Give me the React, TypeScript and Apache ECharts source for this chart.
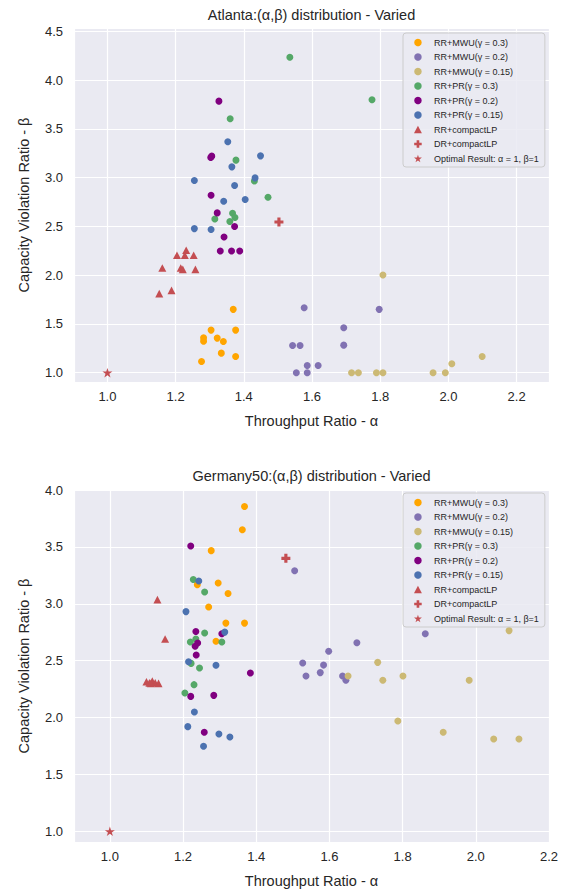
import React, { useEffect, useRef } from "react";
import * as echarts from "echarts";

const SERIES_NAMES = [
  "RR+MWU(γ = 0.3)",
  "RR+MWU(γ = 0.2)",
  "RR+MWU(γ = 0.15)",
  "RR+PR(γ = 0.3)",
  "RR+PR(γ = 0.2)",
  "RR+PR(γ = 0.15)",
  "RR+compactLP",
  "DR+compactLP",
  "Optimal Result: α = 1, β=1",
];

const COLORS = ["#FFA500", "#8172B2", "#CCB974", "#55A868", "#800080", "#4C72B0", "#C44E52", "#C44E52", "#C44E52"];

// Atlanta
const atlMwu03 = [[1.369, 1.65], [1.304, 1.437], [1.376, 1.437], [1.282, 1.359], [1.282, 1.324], [1.322, 1.355], [1.34, 1.321], [1.334, 1.201], [1.376, 1.167], [1.276, 1.116]];
const atlMwu02 = [[1.577, 1.667], [1.543, 1.28], [1.565, 1.28], [1.586, 1.075], [1.618, 1.075], [1.554, 1.0], [1.586, 1.0], [1.797, 1.65], [1.693, 1.462], [1.693, 1.283]];
const atlMwu015 = [[1.808, 2.002], [2.099, 1.167], [2.01, 1.092], [1.716, 1.0], [1.736, 1.0], [1.789, 1.0], [1.808, 1.0], [1.955, 1.0], [1.991, 1.0]];
const atlPr03 = [[1.535, 4.235], [1.36, 3.604], [1.377, 3.18], [1.431, 2.967], [1.471, 2.8], [1.367, 2.636], [1.374, 2.591], [1.359, 2.55], [1.315, 2.577], [1.776, 3.8]];
const atlPr02 = [[1.327, 3.785], [1.303, 3.207], [1.306, 3.221], [1.304, 2.82], [1.322, 2.639], [1.373, 2.499], [1.342, 2.392], [1.331, 2.248], [1.364, 2.248], [1.388, 2.248]];
const atlPr015 = [[1.353, 3.368], [1.449, 3.224], [1.365, 3.111], [1.255, 2.971], [1.433, 2.998], [1.373, 2.92], [1.341, 2.759], [1.404, 2.776], [1.255, 2.478], [1.304, 2.468]];
const atlRrLP = [[1.231, 2.256], [1.204, 2.204], [1.227, 2.204], [1.253, 2.204], [1.161, 2.074], [1.215, 2.074], [1.221, 2.06], [1.258, 2.06], [1.152, 1.811], [1.188, 1.845]];
const atlDrLP = [[1.503, 2.546]];
const atlOpt = [[1.0, 1.0]];

// Germany50
const gerMwu03 = [[1.368, 3.855], [1.362, 3.651], [1.277, 3.467], [1.239, 3.168], [1.296, 3.182], [1.323, 3.091], [1.27, 2.971], [1.317, 2.83], [1.368, 2.83], [1.29, 2.67]];
const gerMwu02 = [[1.505, 3.291], [1.862, 2.737], [1.675, 2.658], [1.598, 2.582], [1.527, 2.479], [1.584, 2.461], [1.536, 2.365], [1.575, 2.395], [1.636, 2.365], [1.645, 2.327]];
const gerMwu015 = [[2.091, 2.764], [1.732, 2.485], [1.651, 2.365], [1.746, 2.327], [1.801, 2.365], [1.982, 2.327], [1.787, 1.969], [1.911, 1.87], [2.049, 1.811], [2.118, 1.811]];
const gerPr03 = [[1.228, 3.214], [1.259, 3.103], [1.259, 2.743], [1.235, 2.69], [1.22, 2.664], [1.306, 2.664], [1.222, 2.476], [1.245, 2.435], [1.23, 2.289], [1.205, 2.215]];
const gerPr02 = [[1.221, 3.507], [1.235, 2.757], [1.306, 2.737], [1.24, 2.655], [1.233, 2.626], [1.236, 2.549], [1.384, 2.391], [1.221, 2.186], [1.284, 2.195], [1.258, 1.87]];
const gerPr015 = [[1.243, 3.2], [1.208, 2.931], [1.314, 2.751], [1.215, 2.491], [1.29, 2.459], [1.231, 2.048], [1.213, 1.92], [1.298, 1.855], [1.328, 1.829], [1.256, 1.747]];
const gerRrLP = [[1.13, 3.036], [1.151, 2.69], [1.1, 2.315], [1.108, 2.305], [1.116, 2.32], [1.124, 2.305], [1.133, 2.3], [1.112, 2.3]];
const gerDrLP = [[1.481, 3.399]];
const gerOpt = [[1.0, 1.0]];

const TRI = "path://M0,-1 L1,0.9 L-1,0.9 Z";
const PLUS = "path://M-1.4,-4 L1.4,-4 L1.4,-1.4 L4,-1.4 L4,1.4 L1.4,1.4 L1.4,4 L-1.4,4 L-1.4,1.4 L-4,1.4 L-4,-1.4 L-1.4,-1.4 Z";
const STAR = "path://M0,-1 L0.2245,-0.309 L0.951,-0.309 L0.363,0.118 L0.588,0.809 L0,0.382 L-0.588,0.809 L-0.363,0.118 L-0.951,-0.309 L-0.2245,-0.309 Z";
const SYMBOLS = ["circle", "circle", "circle", "circle", "circle", "circle", TRI, PLUS, STAR];
const SIZES = [7, 7, 7, 7, 7, 7, 8, 9, 10];

const FONT = "'Liberation Sans', Arial, sans-serif";
const TXT = "#262626";

function fmt(step: number) {
  return (v: number) => {
    const k = v / step;
    return Math.abs(k - Math.round(k)) < 1e-6 ? v.toFixed(1) : "";
  };
}

function xAxis(gridIndex: number, min: number, max: number) {
  return {
    type: "value",
    gridIndex,
    min,
    max,
    minInterval: 0.2,
    maxInterval: 0.2,
    name: "Throughput Ratio - α",
    nameLocation: "middle",
    nameGap: 31,
    nameTextStyle: { fontSize: 14.5, color: TXT, fontFamily: FONT },
    axisLine: { show: false },
    axisTick: { show: false },
    axisLabel: { fontSize: 13, color: TXT, fontFamily: FONT, margin: 8, formatter: fmt(0.2), showMinLabel: true, showMaxLabel: true },
    splitLine: { show: true, lineStyle: { color: "#ffffff", width: 1.2 } },
  };
}

function yAxis(gridIndex: number, min: number, max: number) {
  return {
    type: "value",
    gridIndex,
    min,
    max,
    minInterval: 0.5,
    maxInterval: 0.5,
    name: "Capacity Violation Ratio - β",
    nameLocation: "middle",
    nameGap: 43,
    nameTextStyle: { fontSize: 14.5, color: TXT, fontFamily: FONT },
    axisLine: { show: false },
    axisTick: { show: false },
    axisLabel: { fontSize: 13, color: TXT, fontFamily: FONT, margin: 11, formatter: fmt(0.5), showMinLabel: true, showMaxLabel: true },
    splitLine: { show: true, lineStyle: { color: "#ffffff", width: 1.2 } },
  };
}

function buildSeries(idx: number, groups: number[][][]) {
  return groups.map((data, i) => ({
    type: "scatter",
    name: SERIES_NAMES[i],
    xAxisIndex: idx,
    yAxisIndex: idx,
    data,
    symbol: SYMBOLS[i],
    symbolSize: SIZES[i],
    symbolKeepAspect: true,
    itemStyle: { color: COLORS[i], opacity: 1 },
    emphasis: { disabled: true },
  }));
}

function legend(top: number) {
  return {
    data: SERIES_NAMES.map((name, i) => ({ name, icon: SYMBOLS[i] })),
    orient: "vertical",
    left: 403,
    top,
    itemWidth: 22,
    itemHeight: 7.5,
    itemGap: 3.5,
    symbolKeepAspect: true,
    padding: [4, 6, 3, 11],
    backgroundColor: "rgba(234,234,242,0.85)",
    borderColor: "#cccccc",
    borderWidth: 1,
    borderRadius: 3,
    selectedMode: false,
    textStyle: { fontSize: 9, color: TXT, fontFamily: FONT, lineHeight: 11 },
  };
}

export default function App() {
  const ref = useRef<HTMLDivElement>(null);
  useEffect(() => {
    const chart = echarts.init(ref.current!, null, { renderer: "svg" });
    const option = {
      animation: false,
      backgroundColor: "#ffffff",
      textStyle: { fontFamily: FONT },
      grid: [
        { left: 74, right: 12, top: 28, height: 354, backgroundColor: "#EAEAF2", show: true, borderWidth: 0 },
        { left: 74, right: 12, top: 490, height: 352, backgroundColor: "#EAEAF2", show: true, borderWidth: 0 },
      ],
      xAxis: [xAxis(0, 0.902, 2.295), xAxis(1, 0.902, 2.2)],
      yAxis: [yAxis(0, 0.905, 4.535), yAxis(1, 0.906, 4.0)],
      legend: [legend(33), legend(493)],
      graphic: [
        { type: "text", x: 311.5, y: 15, style: { text: "Atlanta:(α,β) distribution - Varied", textAlign: "center", textVerticalAlign: "middle", fontSize: 14.5, fill: TXT, fontFamily: FONT } },
        { type: "text", x: 311.5, y: 476, style: { text: "Germany50:(α,β) distribution - Varied", textAlign: "center", textVerticalAlign: "middle", fontSize: 14.5, fill: TXT, fontFamily: FONT } },
      ],
      series: [
        ...buildSeries(0, [atlMwu03, atlMwu02, atlMwu015, atlPr03, atlPr02, atlPr015, atlRrLP, atlDrLP, atlOpt]),
        ...buildSeries(1, [gerMwu03, gerMwu02, gerMwu015, gerPr03, gerPr02, gerPr015, gerRrLP, gerDrLP, gerOpt]),
      ],
    };
    chart.setOption(option as any);
    return () => chart.dispose();
  }, []);
  return <div ref={ref} style={{ position: "fixed", left: 0, top: 0, width: 561, height: 891 }} />;
}
